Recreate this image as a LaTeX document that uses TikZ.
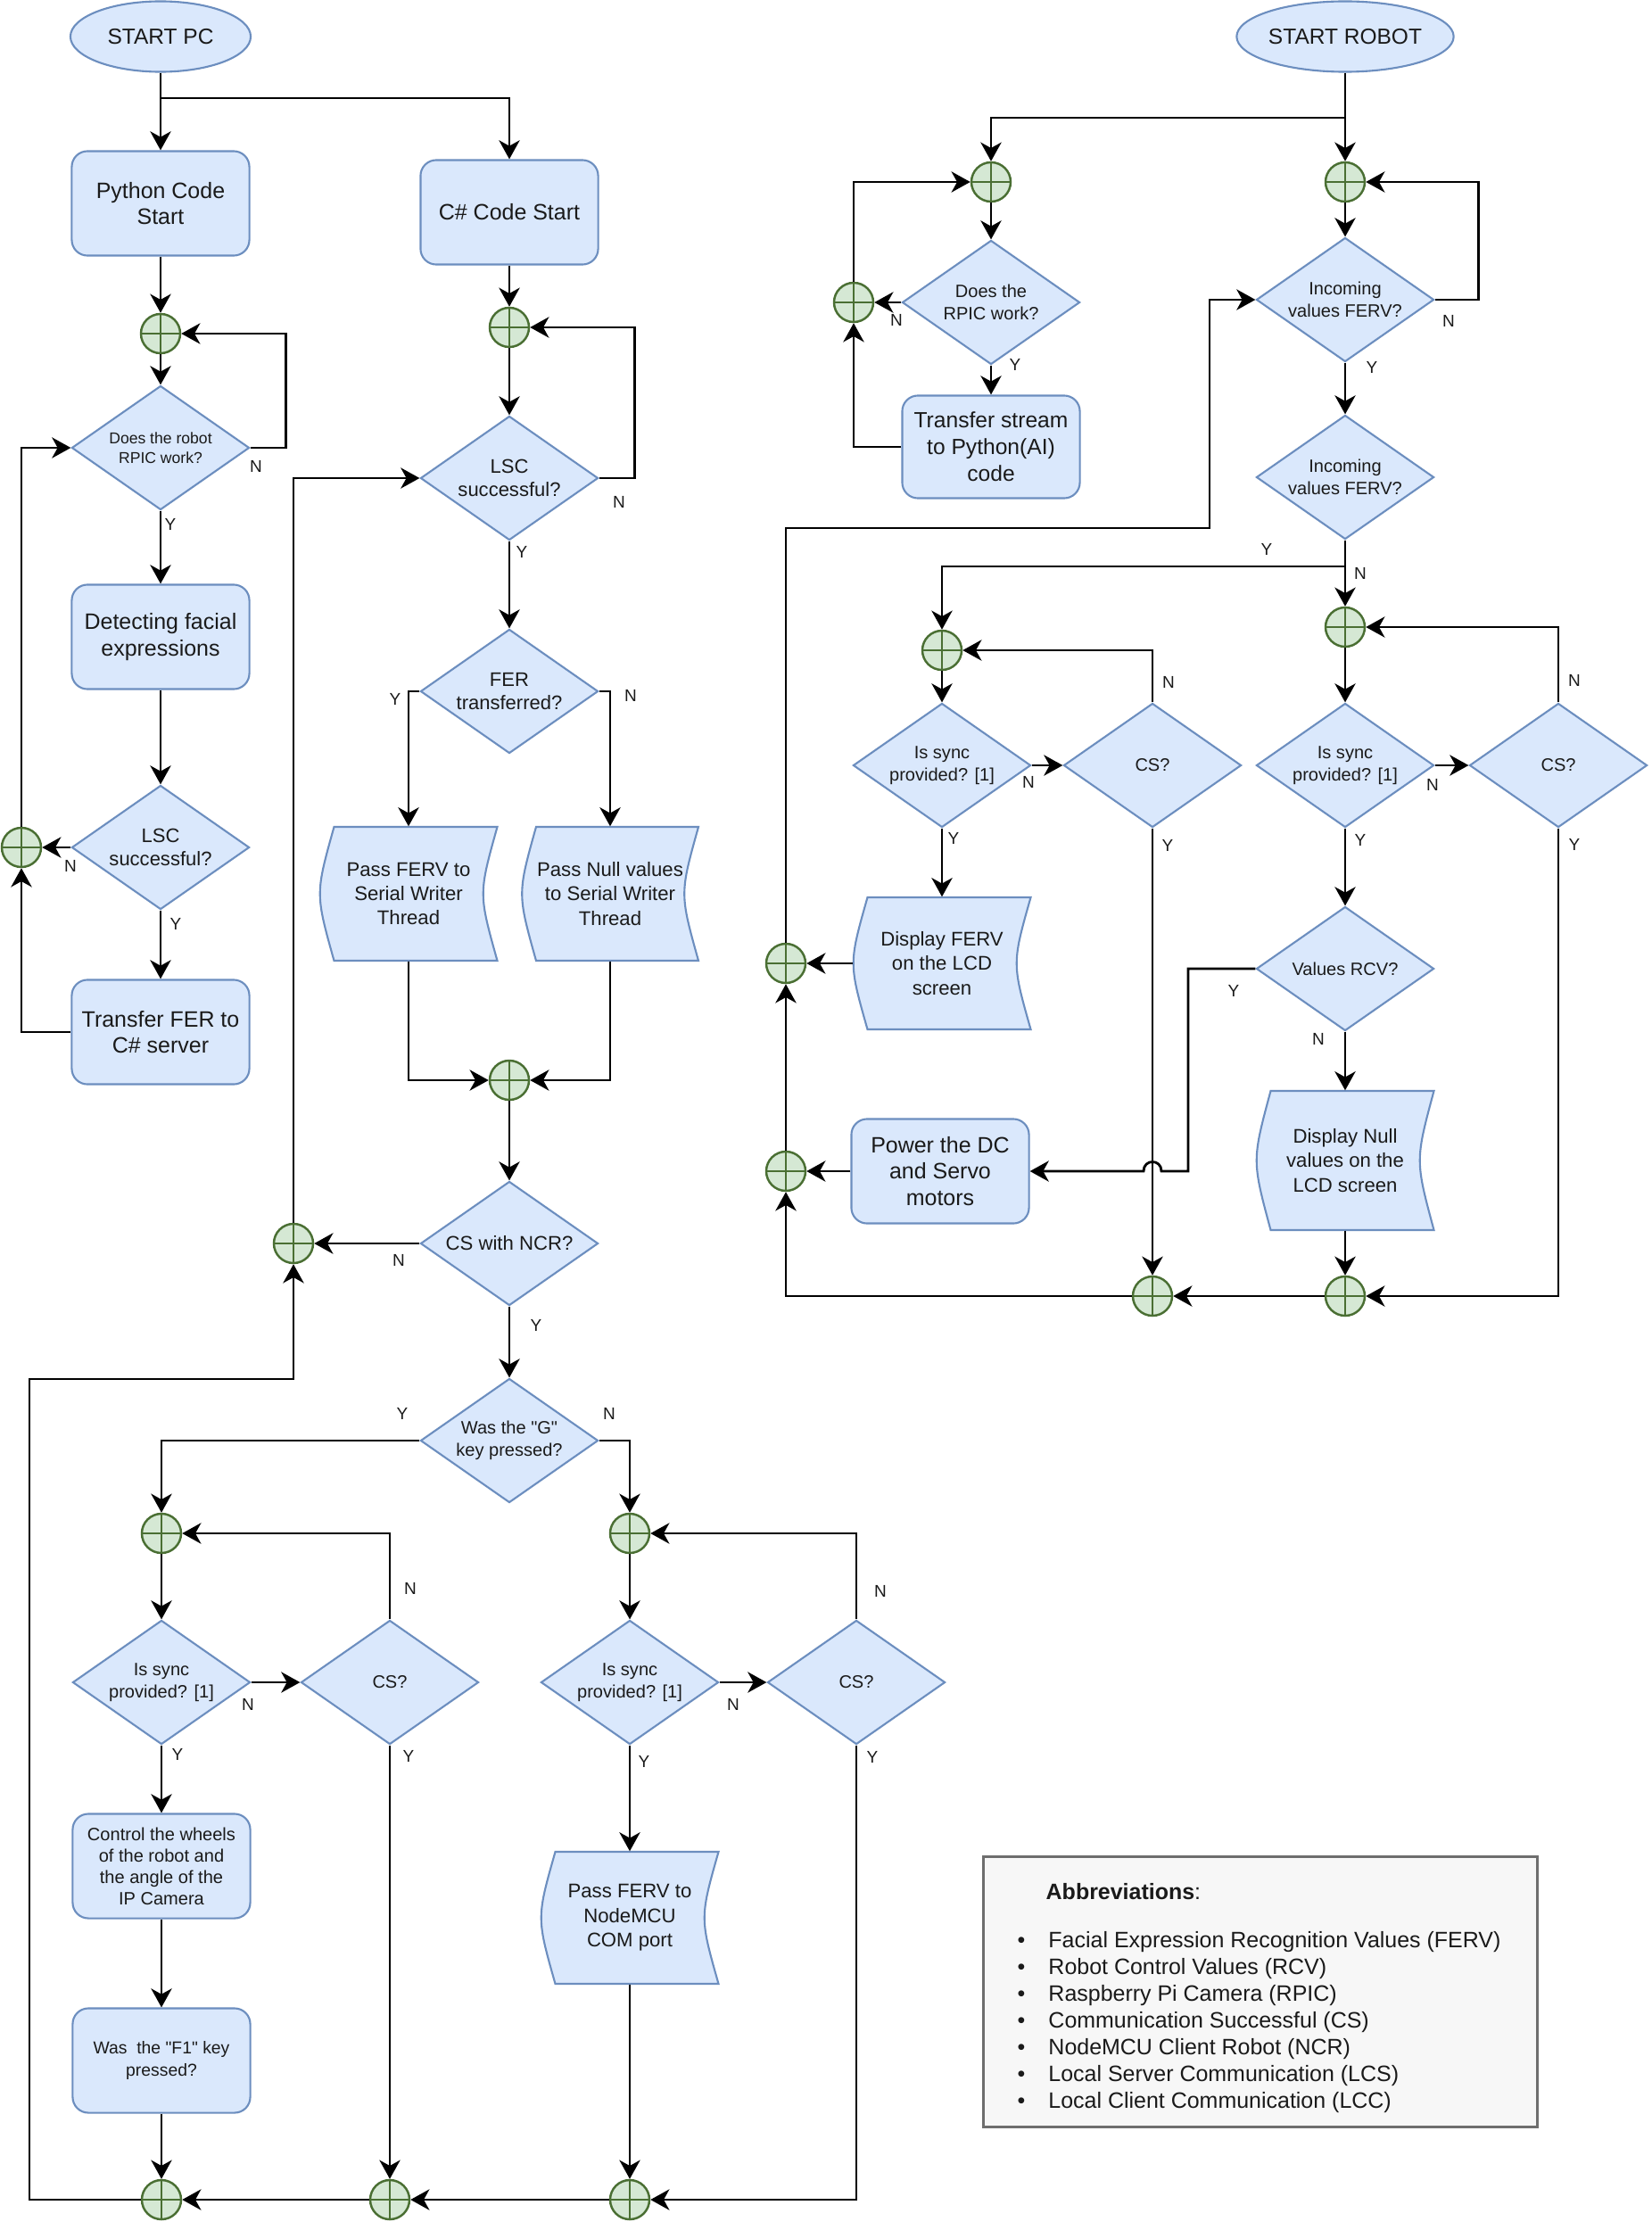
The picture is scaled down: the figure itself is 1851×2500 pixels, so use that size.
\documentclass[tikz,border=0pt]{standalone}
\usepackage{fontspec}
\setmainfont{Liberation Sans}
\usetikzlibrary{shapes.geometric,arrows.meta,calc}
\definecolor{bfill}{HTML}{DAE8FC}
\definecolor{bdraw}{HTML}{6C8EBF}
\definecolor{gfill}{HTML}{D5E8D4}
\definecolor{gdraw}{HTML}{4A6F33}
\definecolor{lfill}{HTML}{F7F7F7}
\definecolor{ldraw}{HTML}{6E6E6E}
\definecolor{txt}{HTML}{1A1A1A}
\newcommand\fzBox{\fontsize{7.1pt}{8.4pt}\selectfont}
\newcommand\fzTrs{\fontsize{7.0pt}{8.5pt}\selectfont}
\newcommand\fzStore{\fontsize{6.3pt}{7.8pt}\selectfont}
\newcommand\fzDia{\fontsize{5.7pt}{7.1pt}\selectfont}
\newcommand\fzTiny{\fontsize{5pt}{6.4pt}\selectfont}
\newcommand\fzLsc{\fontsize{6.26pt}{7.6pt}\selectfont}
\newcommand\fzNcr{\fontsize{6.3pt}{7.6pt}\selectfont}
\newcommand\fzCtrl{\fontsize{5.7pt}{6.8pt}\selectfont}
\newcommand\fzFone{\fontsize{5.5pt}{7.05pt}\selectfont}
\newcommand\fzLbl{\fontsize{5.4pt}{6.5pt}\selectfont}
\newcommand\fzStart{\fontsize{6.97pt}{8.4pt}\selectfont}
\newcommand\fzLeg{\fontsize{7.1pt}{8.54pt}\selectfont}
\tikzset{
 conn/.style={draw=black, line width=0.8pt},
 arr/.style={-{Stealth[length=6pt,width=6.6pt,inset=1.8pt]}},
 box/.style={draw=bdraw, fill=bfill, line width=0.6pt, rounded corners=5pt, align=center, minimum width=1.99cm, minimum height=1.17cm, inner sep=1pt, font=\fzBox, text=txt},
 dia/.style={diamond, draw=bdraw, fill=bfill, line width=0.6pt, minimum width=1.99cm, minimum height=1.39cm, inner sep=0pt},
 dtxt/.style={align=center, inner sep=0pt, text=txt},
 stxt/.style={align=center, inner sep=0pt, text=txt, font=\fzStore},
 sshape/.style={draw=bdraw, fill=bfill, line width=0.6pt},
 junc/.style={circle, draw=gdraw, fill=gfill, line width=0.7pt, minimum size=0.44cm, inner sep=0pt,
   path picture={\draw[gdraw, line width=0.7pt] (path picture bounding box.north) -- (path picture bounding box.south) (path picture bounding box.west) -- (path picture bounding box.east);}},
 lbl/.style={font=\fzLbl, inner sep=0pt, text=txt},
 term/.style={ellipse, draw=bdraw, fill=bfill, line width=0.6pt, minimum width=2.02cm, minimum height=0.79cm, inner sep=0pt, font=\fzStart, text=txt},
}
% stored-data shape: name, cx, cy, w, h, text
\newcommand\storedat[6]{%
 \path[sshape] (#2-#4/2+16,#3-#5/2) -- (#2+#4/2,#3-#5/2) .. controls (#2+#4/2-21,#3) .. (#2+#4/2,#3+#5/2) -- (#2-#4/2+16,#3+#5/2) .. controls (#2-#4/2-5,#3) .. (#2-#4/2+16,#3-#5/2) -- cycle;
 \node[stxt, minimum width=#4*0.01cm, minimum height=#5*0.01cm] (#1) at (#2,#3) {#6};
}
% decision: name, cx, cy, font, text
\newcommand\dianode[5]{%
 \node[dia] (#1) at (#2,#3) {};
 \node[dtxt, font=#4] (#1-t) at (#1.center) {#5};
}
\begin{document}
\begin{tikzpicture}[x=0.01cm, y=-0.01cm]
\useasboundingbox (0,0) rectangle (1851,2500);
\path[fill=white] (0,0) rectangle (1851,2500);

% ================= PC side =================
\node[term] (startpc) at (180,41) {START PC};
\node[box] (pyst) at (180,228) {Python Code\\Start};
\node[box] (csst) at (571,238) {C\# Code Start};
\node[junc] (j1) at (180,374) {};
\node[junc] (j2) at (571,367) {};
\dianode{d1}{180}{502}{\fzTiny}{Does the robot\\RPIC work?}
\dianode{d2}{571}{536}{\fzLsc}{LSC\\successful?}
\node[box] (detect) at (180,714) {Detecting facial\\expressions};
\dianode{d3}{180}{950}{\fzLsc}{LSC\\successful?}
\node[junc] (jl) at (24,950) {};
\node[box] (trfer) at (180,1157) {Transfer FER to\\C\# server};
\dianode{d4}{571}{775}{\fzLsc}{FER\\transferred?}
\storedat{passferv}{458}{1002}{199}{150}{Pass FERV to\\Serial Writer\\Thread}
\storedat{passnull}{684}{1002}{198}{150}{Pass Null values\\to Serial Writer\\Thread}
\node[junc] (j3) at (571,1211) {};
\dianode{d5}{571}{1394}{\fzNcr}{CS with NCR?}
\node[junc] (j4) at (329,1394) {};
\dianode{d6}{571}{1615}{\fzDia}{Was the \textquotedbl G\textquotedbl\\key pressed?}
\node[junc] (jg1) at (181,1719) {};
\node[junc] (jg2) at (706,1719) {};
\dianode{sync1}{181}{1886}{\fzDia}{Is sync\\provided? [1]}
\dianode{cs1}{437}{1886}{\fzDia}{CS?}
\dianode{sync2}{706}{1886}{\fzDia}{Is sync\\provided? [1]}
\dianode{cs2}{960}{1886}{\fzDia}{CS?}
\node[box, font=\fzCtrl] (ctrl) at (181,2092) {Control the wheels\\of the robot and\\the angle of the\\IP Camera};
\node[box, font=\fzFone] (fone) at (181,2310) {Was\ \ the \textquotedbl F1\textquotedbl\ key\\pressed?};
\storedat{passnode}{706}{2150}{199}{148}{Pass FERV to\\NodeMCU\\COM port}
\node[junc] (jb1) at (181,2466) {};
\node[junc] (jb2) at (437,2466) {};
\node[junc] (jb3) at (706,2466) {};
\coordinate (b1) at (180,110);
\coordinate (lc1) at (33,2466);
\coordinate (lc2) at (33,1546);

\draw[conn,arr] (startpc) -- (pyst);
\draw[conn,arr] (b1) -| (csst);
\draw[conn,arr] (pyst) -- (j1);
\draw[conn,arr] (j1) -- (d1);
\draw[conn,arr] (d1.east) -- ++(40,0) |- (j1);
\draw[conn,arr] (d1) -- (detect);
\draw[conn,arr] (detect) -- (d3);
\draw[conn,arr] (d3) -- (jl);
\draw[conn,arr] (d3) -- (trfer);
\draw[conn,arr] (trfer.west) -| (jl);
\draw[conn,arr] (jl) |- (d1.west);
\draw[conn,arr] (csst) -- (j2);
\draw[conn,arr] (j2) -- (d2);
\draw[conn,arr] (d2.east) -- ++(40,0) |- (j2);
\draw[conn,arr] (d2) -- (d4);
\draw[conn,arr] (d4.west) -| (passferv);
\draw[conn,arr] (d4.east) -| (passnull);
\draw[conn,arr] (passferv) |- (j3);
\draw[conn,arr] (passnull) |- (j3);
\draw[conn,arr] (j3) -- (d5);
\draw[conn,arr] (d5) -- (j4);
\draw[conn,arr] (d5) -- (d6);
\draw[conn,arr] (d6.west) -| (jg1);
\draw[conn,arr] (d6.east) -| (jg2);
\draw[conn,arr] (jg1) -- (sync1);
\draw[conn,arr] (sync1) -- (cs1);
\draw[conn,arr] (cs1.north) |- (jg1);
\draw[conn,arr] (sync1) -- (ctrl);
\draw[conn,arr] (ctrl) -- (fone);
\draw[conn,arr] (fone) -- (jb1);
\draw[conn,arr] (cs1) -- (jb2);
\draw[conn,arr] (jg2) -- (sync2);
\draw[conn,arr] (sync2) -- (cs2);
\draw[conn,arr] (cs2.north) |- (jg2);
\draw[conn,arr] (sync2) -- (passnode);
\draw[conn,arr] (passnode) -- (jb3);
\draw[conn,arr] (cs2.south) |- (jb3);
\draw[conn,arr] (jb3) -- (jb2);
\draw[conn,arr] (jb2) -- (jb1);
\draw[conn,arr] (jb1) -- (lc1) -- (lc2) -| (j4);
\draw[conn,arr] (j4) |- (d2.west);

\node[lbl] (n1) at (287,523) {N};
\node[lbl] (y1) at (191,588) {Y};
\node[lbl] (n2) at (79,971) {N};
\node[lbl] (y2) at (197,1036) {Y};
\node[lbl] (n3) at (694,563) {N};
\node[lbl] (y3) at (585,619) {Y};
\node[lbl] (y4) at (443,784) {Y};
\node[lbl] (n4) at (707,780) {N};
\node[lbl] (n5) at (447,1413) {N};
\node[lbl] (y5) at (601,1486) {Y};
\node[lbl] (y6) at (451,1585) {Y};
\node[lbl] (n6) at (683,1585) {N};
\node[lbl] (n7) at (278,1911) {N};
\node[lbl] (y7) at (199,1967) {Y};
\node[lbl] (n8) at (460,1781) {N};
\node[lbl] (y8) at (458,1969) {Y};
\node[lbl] (n9) at (822,1911) {N};
\node[lbl] (y9) at (722,1975) {Y};
\node[lbl] (n10) at (987,1784) {N};
\node[lbl] (y10) at (978,1970) {Y};

% ================= Robot side =================
\node[term] (startrobot) at (1508,41) {START ROBOT};
\node[junc] (jr1) at (1111,204) {};
\node[junc] (jr2) at (1508,204) {};
\dianode{dr1}{1111}{339}{\fzDia}{Does the\\RPIC work?}
\node[junc] (jrl) at (957,339) {};
\node[box, font=\fzTrs, minimum height=1.15cm] (trstream) at (1111,501) {Transfer stream\\to Python(AI)\\code};
\dianode{di1}{1508}{336}{\fzDia}{Incoming\\values FERV?}
\dianode{di2}{1508}{535}{\fzDia}{Incoming\\values FERV?}
\node[junc] (jrs1) at (1056,729) {};
\node[junc] (jrs2) at (1508,703) {};
\dianode{syncr1}{1056}{858}{\fzDia}{Is sync\\provided? [1]}
\dianode{csr1}{1292}{858}{\fzDia}{CS?}
\dianode{syncr2}{1508}{858}{\fzDia}{Is sync\\provided? [1]}
\dianode{csr2}{1747}{858}{\fzDia}{CS?}
\storedat{dispferv}{1056}{1080}{199}{148}{Display FERV\\on the LCD\\screen}
\dianode{valrcv}{1508}{1086}{\fzDia}{Values RCV?}
\node[box] (powerdc) at (1054,1313) {Power the DC\\and Servo\\motors};
\storedat{dispnull}{1508}{1301}{199}{156}{Display Null\\values on the\\LCD screen}
\node[junc] (jrd) at (881,1080) {};
\node[junc] (jrp) at (881,1313) {};
\node[junc] (jbr1) at (1292,1453) {};
\node[junc] (jbr2) at (1508,1453) {};
\coordinate (b2) at (1508,132);
\coordinate (b3) at (1508,635);
\coordinate (r1) at (881,592);
\coordinate (r2) at (1356,592);
\coordinate (h1) at (1332,1086);
\coordinate (h2) at (1332,1313);
\coordinate (hp1) at (1302,1313);
\coordinate (hp2) at (1282,1313);

\draw[conn,arr] (startrobot) -- (jr2);
\draw[conn,arr] (b2) -| (jr1);
\draw[conn,arr] (jr1) -- (dr1);
\draw[conn,arr] (dr1) -- (jrl);
\draw[conn,arr] (dr1) -- (trstream);
\draw[conn,arr] (trstream.west) -| (jrl);
\draw[conn,arr] (jrl) |- (jr1);
\draw[conn,arr] (jr2) -- (di1);
\draw[conn,arr] (di1.east) -- ++(49,0) |- (jr2);
\draw[conn,arr] (di1) -- (di2);
\draw[conn,arr] (di2) -- (jrs2);
\draw[conn,arr] (b3) -| (jrs1);
\draw[conn,arr] (jrs1) -- (syncr1);
\draw[conn,arr] (syncr1) -- (csr1);
\draw[conn,arr] (csr1.north) |- (jrs1);
\draw[conn,arr] (syncr1) -- (dispferv);
\draw[conn,arr] (dispferv) -- (jrd);
\draw[conn,arr] (csr1) -- (jbr1);
\draw[conn,arr] (jrs2) -- (syncr2);
\draw[conn,arr] (syncr2) -- (csr2);
\draw[conn,arr] (csr2.north) |- (jrs2);
\draw[conn,arr] (syncr2) -- (valrcv);
\draw[conn,arr] (valrcv) -- (dispnull);
\draw[conn,arr] (dispnull) -- (jbr2);
\draw[conn,arr] (csr2.south) |- (jbr2);
\draw[conn,arr] (jbr2) -- (jbr1);
\draw[conn,arr] (jbr1) -| (jrp);
\draw[conn,arr] (powerdc) -- (jrp);
\draw[conn,arr] (jrp) -- (jrd);
\draw[conn,arr] (jrd) -- (r1) -- (r2) |- (di1.west);
\draw[conn,arr] (valrcv.west) -- (h1) -- (h2) -- (hp1) .. controls (1302,1299) and (1282,1299) .. (hp2) -- (powerdc.east);

\node[lbl] (rn1) at (1005,359) {N};
\node[lbl] (ry1) at (1138,409) {Y};
\node[lbl] (rn2) at (1624,360) {N};
\node[lbl] (ry2) at (1538,412) {Y};
\node[lbl] (ry3) at (1420,616) {Y};
\node[lbl] (rn3) at (1525,643) {N};
\node[lbl] (rn4) at (1153,877) {N};
\node[lbl] (ry4) at (1069,940) {Y};
\node[lbl] (rn5) at (1310,765) {N};
\node[lbl] (ry5) at (1309,948) {Y};
\node[lbl] (rn6) at (1606,880) {N};
\node[lbl] (ry6) at (1525,942) {Y};
\node[lbl] (rn7) at (1765,763) {N};
\node[lbl] (ry7) at (1765,947) {Y};
\node[lbl] (ry8) at (1383,1111) {Y};
\node[lbl] (rn8) at (1478,1165) {N};

% ================= Legend =================
\node[draw=ldraw, fill=lfill, line width=0.8pt, minimum width=6.21cm, minimum height=3.03cm, anchor=north west, inner sep=0pt] (legend) at (1101,2080) {};
\node[anchor=west, inner sep=0pt, font=\fzLeg, text=txt] (abbr) at (1172,2121) {\textbf{Abbreviations}:};
\node[anchor=north west, inner sep=0pt, font=\fzLeg, text=txt] (abbrlist) at (1140,2162) {%
\begin{tabular}{@{}l@{\hspace{7.4pt}}l@{}}
\textbullet & Facial Expression Recognition Values (FERV)\\
\textbullet & Robot Control Values (RCV)\\
\textbullet & Raspberry Pi Camera (RPIC)\\
\textbullet & Communication Successful (CS)\\
\textbullet & NodeMCU Client Robot (NCR)\\
\textbullet & Local Server Communication (LCS)\\
\textbullet & Local Client Communication (LCC)
\end{tabular}};
\end{tikzpicture}
\end{document}
